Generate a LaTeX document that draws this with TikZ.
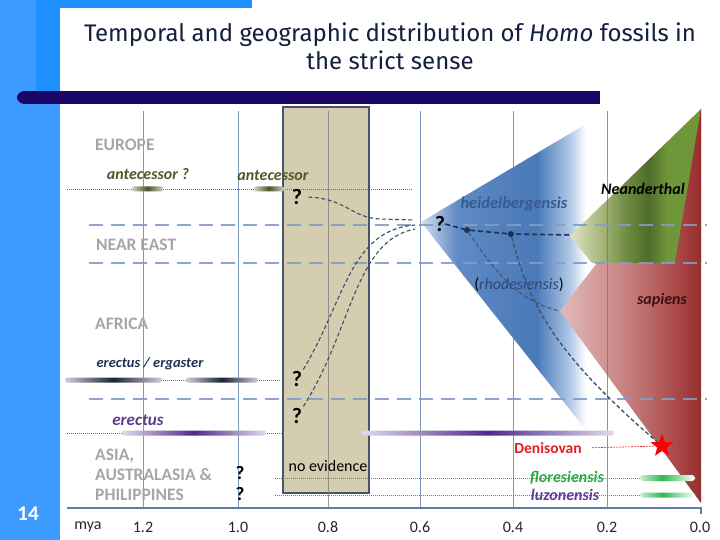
\documentclass[tikz,border=0pt]{standalone}
\usepackage{fontspec}
\setmainfont{Carlito}
\newfontfamily\titlefont{Fira Sans}
\usetikzlibrary{shapes.geometric}

\definecolor{pageblue}{RGB}{30,144,255}
\definecolor{pagelight}{RGB}{61,155,255}
\definecolor{titleink}{RGB}{20,32,62}
\definecolor{banner}{RGB}{26,6,102}
\definecolor{gridblue}{RGB}{95,125,170}
\definecolor{sepblue}{RGB}{128,158,198}
\definecolor{regiongray}{RGB}{166,166,166}
\definecolor{boxfill}{RGB}{212,205,176}
\definecolor{boxline}{RGB}{70,85,105}
\definecolor{linkdash}{RGB}{60,78,105}
\definecolor{trunkdash}{RGB}{30,48,85}
\definecolor{antecol}{RGB}{80,90,40}
\definecolor{ergcol}{RGB}{35,50,85}
\definecolor{erecol}{RGB}{95,60,140}
\definecolor{heidcol}{RGB}{55,90,145}
\definecolor{rhodcol}{RGB}{45,72,120}
\definecolor{sapcol}{RGB}{60,16,16}
\definecolor{floregreen}{RGB}{40,170,70}
\definecolor{luzpurple}{RGB}{95,60,150}
\definecolor{denired}{RGB}{227,30,36}
% shading stops
\definecolor{heidA}{RGB}{210,222,240}
\definecolor{heidB}{RGB}{95,138,196}
\definecolor{heidC}{RGB}{74,121,184}
\definecolor{heidD}{RGB}{176,200,230}
\definecolor{neanA}{RGB}{226,228,196}
\definecolor{neanB}{RGB}{167,182,122}
\definecolor{neanC}{RGB}{107,138,62}
\definecolor{neanD}{RGB}{78,108,42}
\definecolor{neanE}{RGB}{112,150,58}
\definecolor{sapA}{RGB}{227,185,185}
\definecolor{sapB}{RGB}{211,154,154}
\definecolor{sapC}{RGB}{192,115,115}
\definecolor{sapD}{RGB}{168,70,70}
\definecolor{sapE}{RGB}{150,45,45}
\definecolor{oliveL}{RGB}{205,210,195}
\definecolor{oliveD}{RGB}{72,88,36}
\definecolor{ergL}{RGB}{205,208,216}
\definecolor{ergD}{RGB}{28,34,56}
\definecolor{purL}{RGB}{226,218,238}
\definecolor{purD}{RGB}{78,42,138}
\definecolor{grnL}{RGB}{200,238,210}
\definecolor{grnD}{RGB}{47,184,79}

\pgfdeclarehorizontalshading{heidshade}{100bp}{color(0bp)=(heidA); color(25bp)=(heidA); color(36bp)=(heidB); color(60bp)=(heidC); color(70bp)=(heidD); color(75bp)=(white); color(100bp)=(white)}
\pgfdeclarehorizontalshading{neanshade}{100bp}{color(0bp)=(neanA); color(25bp)=(neanA); color(37bp)=(neanB); color(47bp)=(neanC); color(55bp)=(neanD); color(62bp)=(neanE); color(100bp)=(neanE)}
\pgfdeclarehorizontalshading{sapshade}{100bp}{color(0bp)=(sapA); color(25bp)=(sapA); color(39bp)=(sapB); color(53bp)=(sapC); color(67bp)=(sapD); color(75bp)=(sapE); color(100bp)=(sapE)}
\pgfdeclarehorizontalshading{olivebar}{100bp}{color(0bp)=(oliveL); color(25bp)=(oliveL); color(50bp)=(oliveD); color(75bp)=(oliveL); color(100bp)=(oliveL)}
\pgfdeclarehorizontalshading{ergbar}{100bp}{color(0bp)=(ergL); color(25bp)=(ergL); color(50bp)=(ergD); color(75bp)=(ergL); color(100bp)=(ergL)}
\pgfdeclarehorizontalshading{purbar}{100bp}{color(0bp)=(purL); color(25bp)=(purL); color(50bp)=(purD); color(75bp)=(purL); color(100bp)=(purL)}
\pgfdeclarehorizontalshading{grnbar}{100bp}{color(0bp)=(grnL); color(25bp)=(grnL); color(45bp)=(grnD); color(75bp)=(white); color(100bp)=(white)}

\tikzset{
  region/.style={font=\bfseries\fontsize{17.5}{20}\selectfont, text=regiongray, anchor=west, inner sep=0},
  taxon/.style={font=\bfseries\itshape\fontsize{16}{17}\selectfont, inner sep=0},
  plain/.style={font=\fontsize{16}{17}\selectfont, inner sep=0},
  tick/.style={font=\fontsize{16}{17}\selectfont, text=black!85, inner sep=0},
  query/.style={font=\bfseries\fontsize{22}{22}\selectfont, inner sep=0},
  hubdot/.style={circle, fill=trunkdash, inner sep=0, minimum size=6pt},
  gridline/.style={draw=gridblue, line width=1pt, opacity=0.8},
  sepline/.style={draw=sepblue, line width=1.5pt, dash pattern=on 14pt off 8pt, opacity=0.9},
  dotline/.style={draw=gray!80!blue, line width=0.7pt, dash pattern=on 1pt off 1pt},
  greendot/.style={draw=floregreen, line width=0.7pt, dash pattern=on 1pt off 1pt},
  link/.style={draw=linkdash, line width=1.1pt, dash pattern=on 4pt off 2.5pt},
  trunk/.style={draw=trunkdash, line width=1.6pt, dash pattern=on 5pt off 3pt}
}

\begin{document}
\begin{tikzpicture}[x=1pt, y=-1pt]
  \useasboundingbox (0,0) rectangle (720,540);

  % Page
  \fill[pagelight] (0,0) rectangle (60,540);
  \fill[pageblue] (36,0) rectangle (60,92);
  \fill[pageblue] (36,0) rectangle (252,8);
  \fill[white] (60,92) -- (60,26) arc[start angle=180, end angle=270, radius=16] -- (720,8) -- (720,92) -- cycle;
  \fill[white] (60,104) rectangle (720,540);
  \fill[banner] (25,91) rectangle (600,104);
  \fill[banner] (25,97.5) ellipse[x radius=8, y radius=6.5];
  \node[font=\titlefont\fontsize{24}{28}\selectfont, text=titleink, align=center, inner sep=0] (title) at (390,46)
    {Temporal and geographic distribution of \textit{Homo} fossils in\\the strict sense};
  \node[font=\bfseries\fontsize{21}{21}\selectfont, text=white, inner sep=0] (slideno) at (28,514) {14};

  % Gap box
  \filldraw[fill=boxfill, draw=boxline, line width=1.5pt] (283,107) rectangle (369,493);

  % Lineages
  \shade[shading=heidshade] (421,222) -- (586,124) -- (586,430) -- cycle;
  \shade[shading=neanshade] (570,236) -- (701,109) -- (701,263) -- (592,263) -- cycle;
  \shade[shading=sapshade] (560,311) -- (597,263) -- (675,263) -- (701,109) -- (701,503) -- cycle;

  % Time axis
  \draw[gridline] (143,111) -- (143,508);
  \draw[gridline] (238,111) -- (238,508);
  \draw[gridline, draw=gray] (328,111) -- (328,508);
  \draw[gridline] (420,111) -- (420,508);
  \draw[gridline] (513,111) -- (513,508);
  \draw[gridline] (607,111) -- (607,508);
  \draw[draw=gridblue, line width=1.2pt] (67,508) -- (701,508) -- (701,514);

  \node[tick] (mya) at (88,527) {mya};
  \node[tick] (t12) at (143,527) {1.2};
  \node[tick] (t10) at (238,527) {1.0};
  \node[tick] (t08) at (328,527) {0.8};
  \node[tick] (t06) at (420,527) {0.6};
  \node[tick] (t04) at (513,527) {0.4};
  \node[tick] (t02) at (607,527) {0.2};
  \node[tick] (t00) at (700,527) {0.0};

  % Regions
  \draw[sepline] (89,225) -- (707,225);
  \draw[sepline] (89,263) -- (707,263);
  \draw[sepline] (89,399) -- (707,399);

  \node[region] (europe) at (95,145) {EUROPE};
  \node[region] (neareast) at (96,245) {NEAR EAST};
  \node[region] (africa) at (95,324) {AFRICA};
  \node[region, align=left] (asia) at (95,475) {ASIA,\\AUSTRALASIA \&\\PHILIPPINES};

  % Fossil ranges
  \draw[dotline] (67,189) -- (413,189);
  \draw[dotline] (67,380) -- (280,380);
  \draw[dotline] (67,433) -- (284,433);
  \draw[greendot] (275,478) -- (697,478);
  \draw[greendot] (275,495) -- (697,495);

  \shade[shading=olivebar, rounded corners=2pt] (132,186.5) rectangle (163,191.5);
  \shade[shading=olivebar, rounded corners=2pt] (254,186.5) rectangle (284,191.5);
  \shade[shading=ergbar, rounded corners=2pt] (65,377.5) rectangle (162,382.5);
  \shade[shading=ergbar, rounded corners=2pt] (186,377.5) rectangle (258,382.5);
  \shade[shading=purbar, rounded corners=2pt] (122,430.5) rectangle (266,435.5);
  \shade[shading=purbar, rounded corners=2pt] (362,430.5) rectangle (614,435.5);
  \shade[shading=grnbar, rounded corners=3pt] (640,475) rectangle (695,481);
  \shade[shading=grnbar, rounded corners=3pt] (640,492.5) rectangle (695,497.5);

  \node[taxon, text=antecol] (ante1) at (148,174) {antecessor ?};
  \node[taxon, text=antecol] (ante2) at (273,176) {antecessor};
  \node[taxon, text=ergcol, font=\bfseries\itshape\fontsize{14.5}{15}\selectfont] (erg) at (150,364) {erectus / ergaster};
  \node[taxon, text=erecol, font=\bfseries\itshape\fontsize{17}{17}\selectfont] (erec) at (138,420) {erectus};
  \node[taxon, text=heidcol, font=\bfseries\itshape\fontsize{16.5}{17}\selectfont] (heid) at (514,204) {heidelbergensis};
  \node[plain, text=rhodcol] (rhod) at (519,285) {{\color{black}(}\textit{rhodesiensis}{\color{black})}};
  \node[taxon] (nean) at (643,189) {Neanderthal};
  \node[taxon, text=sapcol] (sap) at (662,300) {sapiens};
  \node[taxon, text=floregreen] (flor) at (567,478) {floresiensis};
  \node[taxon, text=luzpurple] (luzon) at (565,495) {luzonensis};
  \node[plain] (noev) at (328,466) {no evidence};
  \node[font=\bfseries\fontsize{15.5}{16}\selectfont, text=denired, inner sep=0] (deni) at (548,448) {Denisovan};

  % Open questions
  \node[query] (qeur) at (297,197) {?};
  \node[query] (qafr1) at (297,379) {?};
  \node[query] (qafr2) at (297,416) {?};
  \node[query] (qhub) at (440,224) {?};
  \node[query, font=\bfseries\fontsize{19}{19}\selectfont] (qasia1) at (240,473) {?};
  \node[query, font=\bfseries\fontsize{19}{19}\selectfont] (qasia2) at (240,494) {?};

  \node[hubdot] (hdot1) at (467,230) {};
  \node[hubdot] (hdot2) at (511,234) {};
  \node[star, star points=5, star point ratio=2.4, fill=red, inner sep=0, minimum size=24pt] (star) at (662,446) {};
  \coordinate (join1) at (413,220);
  \coordinate (join2) at (415,225);
  \coordinate (join3) at (415,229);
  \coordinate (neandtip) at (572,235);
  \coordinate (saptip) at (560,311);

  % Links
  \draw[link, shorten <=6pt] (qeur.east) .. controls (345,198) and (352,218) .. (380,219) -- (join1);
  \draw[link, shorten <=2pt] (qafr1.north east) .. controls (345,300) and (350,230) .. (join2);
  \draw[link, shorten <=2pt] (qafr2.north east) .. controls (352,330) and (355,240) .. (join3);
  \draw[trunk, shorten <=2pt] (qhub.east) -- (hdot1) -- (hdot2) -- (neandtip);
  \draw[link, line width=0.9pt] (hdot1) .. controls (497,275) and (520,302) .. (saptip);
  \draw[link, line width=1.3pt] (hdot2) .. controls (528,300) and (550,350) .. (star);
  \draw[draw=denired, line width=0.6pt, dash pattern=on 2pt off 1pt, shorten <=10pt] (deni.east) -- (star);
\end{tikzpicture}
\end{document}
